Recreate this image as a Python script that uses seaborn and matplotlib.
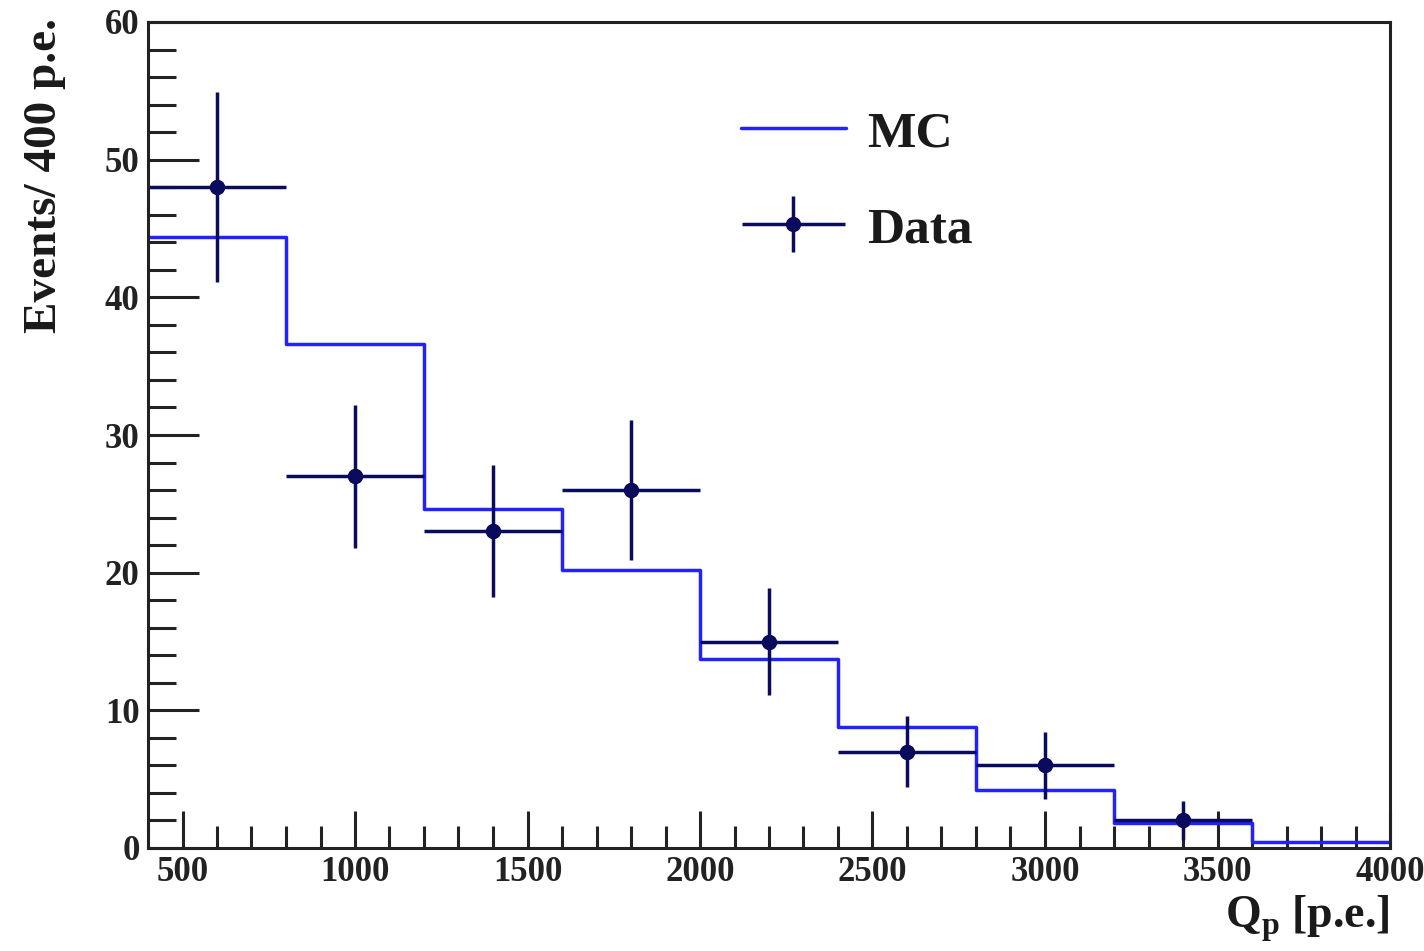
import numpy as np
import pandas as pd
import matplotlib
matplotlib.use("Agg")
import matplotlib.pyplot as plt
from matplotlib.lines import Line2D
from matplotlib.ticker import MultipleLocator
from matplotlib.legend_handler import HandlerErrorbar
import seaborn as sns

# ---- data ----
bin_edges = [400, 800, 1200, 1600, 2000, 2400, 2800, 3200, 3600, 4000]
mc_counts = [44.4, 36.6, 24.6, 20.2, 13.7, 8.8, 4.2, 1.8, 0.4]
data_x = [600, 1000, 1400, 1800, 2200, 2600, 3000, 3400]
data_y = [48, 27, 23, 26, 15, 7, 6, 2]
data_yerr = [6.9, 5.2, 4.8, 5.1, 3.9, 2.6, 2.45, 1.4]
data_xerr = [200, 200, 200, 200, 200, 200, 200, 200]

sns.set_theme(style="white")
plt.rcParams['font.family'] = ['Liberation Serif', 'DejaVu Serif']
plt.rcParams['font.weight'] = 'bold'
plt.rcParams['mathtext.fontset'] = 'custom'
plt.rcParams['mathtext.bf'] = 'Liberation Serif:bold'
plt.rcParams['mathtext.rm'] = 'Liberation Serif:bold'

fig = plt.figure(figsize=(14.24, 9.51), dpi=100)
ax = fig.add_axes([148/1424, 1-848/951, (1390-148)/1424, (848-22)/951])

mc_color = "#2222ff"
navy = "#0b0b5e"

mc_df = pd.DataFrame({"x": bin_edges, "y": mc_counts + [mc_counts[-1]]})
sns.lineplot(data=mc_df, x="x", y="y", drawstyle="steps-post", estimator=None,
             color=mc_color, linewidth=2.5, ax=ax)

eb = ax.errorbar(data_x, data_y, xerr=data_xerr, yerr=data_yerr, fmt="o",
                 color=navy, markersize=10, ecolor=navy, elinewidth=2.5, capsize=0)
sns.scatterplot(x=data_x, y=data_y, color=navy, s=100, edgecolor=navy, ax=ax, zorder=5)

ax.set_xlim(400, 4000)
ax.set_ylim(0, 60)
ax.xaxis.set_major_locator(MultipleLocator(500))
ax.xaxis.set_minor_locator(MultipleLocator(100))
ax.yaxis.set_major_locator(MultipleLocator(10))
ax.yaxis.set_minor_locator(MultipleLocator(2))
ax.tick_params(axis="x", which="major", direction="in", length=27, width=2.2,
               color="#222222", labelsize=25, pad=6)
ax.tick_params(axis="x", which="minor", direction="in", length=16, width=2.2,
               color="#222222")
ax.tick_params(axis="y", which="major", direction="in", length=37, width=2.2,
               color="#222222", labelsize=25, pad=6)
ax.tick_params(axis="y", which="minor", direction="in", length=20, width=2.2,
               color="#222222")
ax.tick_params(top=False, right=False, which="both", bottom=True, left=True)
for lab in ax.get_xticklabels() + ax.get_yticklabels():
    lab.set_fontweight("bold")
    lab.set_color("#222222")
for sp in ax.spines.values():
    sp.set_color("#222222")
    sp.set_linewidth(2.2)

ax.set_xlabel(r"Q$_\mathbf{p}$ [p.e.]", fontsize=33, fontweight="bold", color="#1a1a1a")
ax.xaxis.set_label_coords(1.0, -0.055)
ax.xaxis.label.set_horizontalalignment("right")
ax.set_ylabel("Events/ 400 p.e.", fontsize=34, fontweight="bold", color="#1a1a1a")
ax.yaxis.set_label_coords(-0.083, 1.005)
ax.yaxis.label.set_verticalalignment("center")
ax.yaxis.label.set_horizontalalignment("right")

mc_handle = Line2D([], [], color=mc_color, linewidth=2.5)
leg = ax.legend([mc_handle, eb], ["MC", "Data"], loc="upper left",
                bbox_to_anchor=(0.44, 0.949), frameon=False,
                prop={"size": 37, "weight": "bold"}, handlelength=2.05,
                labelspacing=0.95, handletextpad=0.4,
                handler_map={type(eb): HandlerErrorbar(xerr_size=1.0, yerr_size=0.55)})
for t in leg.get_texts():
    t.set_color("#1a1a1a")

fig.savefig("out.png", dpi=100)
